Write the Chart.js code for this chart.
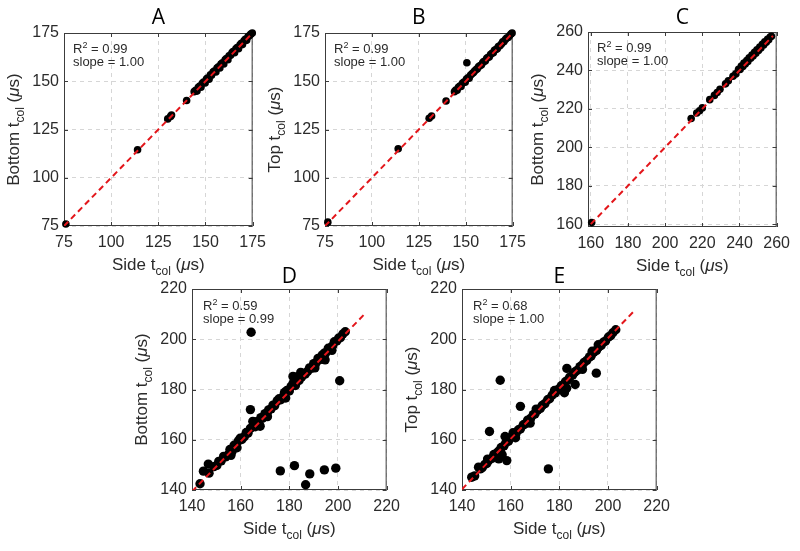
<!DOCTYPE html>
<html>
<head>
<meta charset="utf-8">
<script src="https://cdn.jsdelivr.net/npm/chart.js@4/dist/chart.umd.min.js"></script>
<style>
  body { margin: 0; background: #fff; width: 800px; height: 551px; overflow: hidden; position: relative; }
  canvas { position: absolute; }
</style>
</head>
<body>
<script>
// panel A: side vs bottom
let aSide = [76, 114, 130, 131.5, 132, 140, 144, 144.8, 145.5, 146.2, 147, 147.6, 148.3, 149, 149.8, 150.5,
  151.1, 151.9, 152.6, 153.2, 154, 154.7, 155.5, 156.1, 156.9, 157.6, 158.2, 159, 159.7, 160.4, 161.1, 161.9,
  162.5, 163.3, 164, 164.6, 165.4, 166.1, 166.8, 167.5, 168.3, 169, 169.6, 170.4, 171.1, 171.8, 172.5, 173.2, 174, 174.8];
let aBottom = [76, 114.5, 130.5, 131.8, 132.5, 140, 144.6, 145.3, 144.9, 146.9, 147.5, 146.9, 149, 149.6, 149.1, 151.2,
  151.7, 151.1, 153.3, 153.1, 154.8, 155.3, 154.8, 156.9, 157.5, 156.9, 158.9, 159.6, 159, 161.1, 161.7, 161.2,
  163.2, 163.5, 164.7, 165.4, 164.8, 166.8, 167.4, 166.9, 168.9, 169.6, 169, 171, 171.7, 171.2, 173, 173.6, 174.4, 175];

// panel B: side vs top
let bSide = [76.5, 114, 130.5, 131.8, 139.5, 150.6, 144, 144.7, 145.4, 146.1, 146.9, 147.5, 148.2, 149, 149.7, 150.4,
  151.2, 151.8, 152.5, 153.3, 154, 154.6, 155.4, 156.1, 156.8, 157.5, 158.3, 159, 159.6, 160.4, 161.1, 161.7,
  162.5, 163.2, 164, 164.7, 165.3, 166.1, 166.8, 167.4, 168.2, 169, 169.7, 170.3, 171.1, 171.8, 172.6, 173.3, 174.1, 174.7];
let bTop = [77, 115, 130.8, 132, 139.8, 159.6, 144.6, 145.4, 145.4, 146.9, 147.5, 147.3, 149, 149.6, 149.5, 151.2,
  151.8, 151.6, 153.1, 153.9, 154.4, 155.2, 155.9, 156.4, 157.5, 158, 158.4, 159.6, 160.2, 160.5, 161.8, 162.3,
  162.6, 163.8, 164.5, 164.8, 166, 166.4, 166.9, 168, 168.4, 169.3, 170.4, 170.5, 171.6, 172.4, 172.7, 173.6, 174.5, 175];

// panel C: side vs bottom
let cSide = [160.5, 214, 217, 218.5, 220, 224, 226.5, 228, 229.5, 232.5, 234, 236.5, 238, 239.5, 240.3, 241, 241.8,
  242.4, 243.1, 243.9, 244.5, 245.2, 246, 246.7, 247.3, 248.1, 248.8, 249.4, 250.2, 250.9, 251.5, 252.3, 253,
  253.6, 254.4, 255.1, 255.7, 256.5, 257.2];
let cBottom = [160.8, 215, 217.8, 219, 220.5, 224.8, 227, 228.5, 230.2, 233, 234.6, 237, 238.2, 240.6, 240.5, 242.3, 242,
  243.8, 243.4, 245.2, 244.7, 246.6, 246.3, 248, 247.5, 249.4, 249, 250.7, 250.4, 252.2, 251.7, 253.6, 253.2,
  254.9, 254.6, 256.2, 256, 257.4, 257.8];

// panel D: side vs bottom (diagonal, then outliers)
let dSide = [149, 150.2, 151, 152, 153, 153.8, 155, 155.6, 156.5, 157.3, 158, 159, 159.8, 160.5, 161.5, 162.3, 163,
  164, 165, 166, 166.5, 167.5, 168.3, 169, 170, 170.8, 171.5, 172.5, 173.3, 174, 175, 175.8, 176.5, 177.5, 178,
  179, 180, 180.7, 181.5, 182.5, 183, 184, 185, 185.7, 186.5, 187.5, 188.3, 189, 190, 191, 191.8, 192.5, 193.5,
  194.3, 195, 196, 197, 197.8, 198.5, 199.5, 200.3, 201, 202, 203,
  164.3, 200.7, 164, 176.3, 182.1, 188.4, 186.7, 194.4, 199.1, 144.7, 143.3, 146.7, 147,
  156, 168, 181.5, 184.7, 194.7, 158.5, 171, 178.5, 190.5, 197.5];
let dBottom = [149.3, 149.8, 151.4, 151.6, 153.4, 153.2, 154.2, 156.1, 155.4, 157.8, 157.6, 159.5, 160.6, 160.1, 161.2,
  162.9, 162.6, 164.5, 167.3, 165.2, 167.2, 166.4, 168.8, 168.6, 170.4, 170.2, 171.9, 172.3, 173.8, 173.6, 175.5,
  176.3, 175.9, 177.2, 178.8, 179.6, 179.4, 181.2, 182.4, 181.6, 185, 183.6, 184.9, 186.4, 186.1, 187.2, 188.6,
  188.4, 190.3, 190.6, 192.4, 191.9, 193.7, 194.4, 194.6, 196.4, 196.6, 197.4, 199, 199.3, 200.5, 200.6, 202.1, 203,
  202.8, 183.5, 172, 147.6, 149.7, 146.4, 142.1, 148, 148.7, 147.5, 142.5, 150.3, 146.7,
  153.8, 165.4, 185.2, 186.8, 191.8, 156.8, 169.2, 176.6, 188.6, 195.6];

// panel E: side vs top (diagonal, then outliers)
let eSide = [144, 145.2, 146.8, 147.5, 148.3, 149.4, 150.2, 151, 152.3, 153.1, 154.2, 155, 156.1, 157.2, 158, 159.1,
  160.3, 161, 162.2, 163.1, 164, 165.2, 166.1, 167, 168.2, 169.3, 170, 171.1, 172.2, 173, 174.1, 175.2, 176,
  177.1, 178.3, 179, 180, 180.8, 181.6, 182.5, 183.4, 184.3, 185.5, 186.4, 187.3, 188.5, 189.4, 190.2, 191.3,
  192.4, 193.1, 194.2, 195.3, 196, 197.2, 198.1, 199, 200.2, 201.1, 202, 203.2,
  155.7, 164, 151.3, 175.5, 158.4, 195.2, 183.1, 186.5, 182.1, 157.7, 155.1, 155.8, 156.5, 162, 168, 161, 196, 183,
  150.5, 170.5, 178, 189.5, 193.5];
let eTop = [145.1, 145.6, 149.1, 148.4, 148.9, 150.2, 150.6, 151.8, 152.6, 154.1, 154.6, 155.4, 156.9, 157.5, 158.8,
  159.4, 161.2, 161.4, 162.5, 163.9, 164.3, 165.9, 166.4, 167.8, 168.5, 170, 170.3, 171.8, 172.5, 173.7, 174.4,
  175.9, 176.3, 177.8, 178.6, 179.7, 180.3, 181.5, 181.9, 183.1, 183.7, 184.9, 185.8, 187, 187.6, 189.1, 189.7,
  190.8, 191.6, 193, 193.4, 194.9, 195.6, 196.7, 197.5, 198.8, 199.3, 200.9, 201.4, 202.6, 203.8,
  183.7, 173.3, 163.3, 148.4, 151.7, 186.5, 188.4, 182, 178.7, 161.3, 152.4, 155.3, 154, 160.8, 166.6, 162.8, 197.8, 180.5,
  152.3, 172.2, 179.6, 188, 195.2];

// fitted lines (end points)
let abFitX = [75, 175], abFitY = [75, 175];
let cFitX = [160, 258], cFitY = [160, 258];
let dFitX = [140, 211], dFitY = [139.4, 210.1];
let eFitX = [140, 210.5], eFitY = [140.3, 211];

// tick labels
let ticksAB = [75, 100, 125, 150, 175];
let ticksC = [160, 180, 200, 220, 240, 260];
let ticksDE = [140, 160, 180, 200, 220];

let titles = ['A', 'B', 'C', 'D', 'E'];
let yNames = ['Bottom', 'Top', 'Bottom', 'Bottom', 'Top'];
let r2Text = ['0.99', '0.99', '0.99', '0.59', '0.68'];
let slopeText = ['1.00', '1.00', '1.00', '0.99', '1.00'];

const FONT = '"Liberation Sans", Arial, sans-serif';
const TXT = '#2b2b2b';

function drawRich(ctx, parts, x, baseY, centered) {
  let w = 0;
  parts.forEach(p => { ctx.font = p.font; p.w = ctx.measureText(p.t).width; w += p.w; });
  if (centered) x -= w / 2;
  parts.forEach(p => {
    ctx.font = p.font;
    ctx.fillText(p.t, x, baseY + (p.dy || 0));
    x += p.w;
  });
}

function axisParts(name) {
  return [
    { t: name + ' t', font: '17px ' + FONT },
    { t: 'col', font: '12px ' + FONT, dy: 5 },
    { t: ' (', font: '17px ' + FONT },
    { t: 'μ', font: 'italic 17px ' + FONT },
    { t: 's)', font: '17px ' + FONT }
  ];
}

function deco(p) {
  return {
    id: 'deco' + p.idx,
    beforeDatasetsDraw(chart) {
      const ctx = chart.ctx, a = chart.chartArea;
      ctx.save();
      ctx.strokeStyle = '#3c3c3c';
      ctx.lineWidth = 1;
      ctx.strokeRect(a.left + 0.5, a.top + 0.5, a.right - a.left - 1, a.bottom - a.top - 1);
      ctx.beginPath();
      p.ticks.forEach(v => {
        const px = Math.round(chart.scales.x.getPixelForValue(v)) + 0.5;
        ctx.moveTo(px, a.bottom); ctx.lineTo(px, a.bottom - 4);
        ctx.moveTo(px, a.top); ctx.lineTo(px, a.top + 4);
        const py = Math.round(chart.scales.y.getPixelForValue(v)) + 0.5;
        ctx.moveTo(a.left, py); ctx.lineTo(a.left + 4, py);
        ctx.moveTo(a.right, py); ctx.lineTo(a.right - 4, py);
      });
      ctx.stroke();
      ctx.restore();
    },
    afterDraw(chart) {
      const ctx = chart.ctx, a = chart.chartArea;
      ctx.save();
      ctx.fillStyle = TXT;
      ctx.textBaseline = 'alphabetic';
      ctx.textAlign = 'left';
      const cx = (a.left + a.right) / 2, cy = (a.top + a.bottom) / 2;
      // x label
      drawRich(ctx, axisParts('Side'), cx, a.bottom + 44, true);
      // y label
      ctx.save();
      ctx.translate(a.left - 45, cy);
      ctx.rotate(-Math.PI / 2);
      drawRich(ctx, axisParts(p.yName), 0, 0, true);
      ctx.restore();
      // R2 and slope
      const ax = a.left + p.annX;
      drawRich(ctx, [
        { t: 'R', font: '13px ' + FONT },
        { t: '2', font: '9px ' + FONT, dy: -5 },
        { t: ' = ' + p.r2, font: '13px ' + FONT }
      ], ax, a.top + p.annY, false);
      ctx.font = '13px ' + FONT;
      ctx.fillText('slope = ' + p.slope, ax, a.top + p.annY + 13);
      // panel title
      ctx.fillStyle = '#000';
      ctx.font = '21px "Open Sans", sans-serif';
      ctx.textAlign = 'center';
      ctx.textBaseline = 'middle';
      ctx.fillText(p.title, cx, a.top - p.titleDy);
      ctx.restore();
    }
  };
}

function makePanel(p) {
  const W = p.box[2] - p.box[0], H = p.box[3] - p.box[1];
  const cv = document.createElement('canvas');
  cv.width = W + 70 + 15;
  cv.height = H + 30 + 55;
  cv.style.left = (p.box[0] - 70) + 'px';
  cv.style.top = (p.box[1] - 30) + 'px';
  document.body.appendChild(cv);

  const axis = (isX) => ({
    type: 'linear',
    min: p.min,
    max: p.max,
    afterBuildTicks: s => { s.ticks = p.ticks.map(v => ({ value: v })); },
    afterFit: s => { if (isX) s.height = 55; else s.width = 70; },
    grid: { color: '#d6d6d6', lineWidth: 1, drawTicks: false },
    border: { display: false, dash: [4, 4] },
    ticks: { padding: isX ? 7 : 5, color: TXT, font: { family: FONT, size: 16 }, autoSkip: false, maxRotation: 0 }
  });

  new Chart(cv, {
    type: 'scatter',
    data: {
      datasets: [
        {
          type: 'line',
          data: p.fitX.map((x, i) => ({ x: x, y: p.fitY[i] })),
          borderColor: '#e3161b',
          borderWidth: 2,
          borderDash: [6, 4],
          pointRadius: 0,
          fill: false,
          order: 0
        },
        {
          data: p.xs.map((x, i) => ({ x: x, y: p.ys[i] })),
          backgroundColor: '#000',
          borderWidth: 0,
          pointRadius: p.r,
          clip: false,
          order: 1
        }
      ]
    },
    options: {
      responsive: false,
      animation: false,
      events: [],
      layout: { padding: { top: 30, right: 15, left: 0, bottom: 0 } },
      plugins: { legend: { display: false }, tooltip: { enabled: false } },
      scales: { x: axis(true), y: axis(false) }
    },
    plugins: [deco(p)]
  });
}

const panels = [
  { box: [64, 33, 258, 226], min: 75, max: 175, ticks: ticksAB, xs: aSide, ys: aBottom, fitX: abFitX, fitY: abFitY, r: 3.8, annX: 9, annY: 20, titleDy: 15 },
  { box: [325, 33, 518, 226], min: 75, max: 175, ticks: ticksAB, xs: bSide, ys: bTop, fitX: abFitX, fitY: abFitY, r: 3.8, annX: 9, annY: 20, titleDy: 15 },
  { box: [588, 32, 782, 227], min: 158.5, max: 260, ticks: ticksC, xs: cSide, ys: cBottom, fitX: cFitX, fitY: cFitY, r: 3.8, annX: 9, annY: 20, titleDy: 14 },
  { box: [192, 289, 392, 490], min: 140, max: 220, ticks: ticksDE, xs: dSide, ys: dBottom, fitX: dFitX, fitY: dFitY, r: 4.7, annX: 11, annY: 21, titleDy: 12 },
  { box: [462, 289, 662, 490], min: 140, max: 220, ticks: ticksDE, xs: eSide, ys: eTop, fitX: eFitX, fitY: eFitY, r: 4.7, annX: 11, annY: 21, titleDy: 12 }
];

panels.forEach((p, i) => {
  p.idx = i;
  p.title = titles[i];
  p.yName = yNames[i];
  p.r2 = r2Text[i];
  p.slope = slopeText[i];
  makePanel(p);
});
</script>
</body>
</html>
